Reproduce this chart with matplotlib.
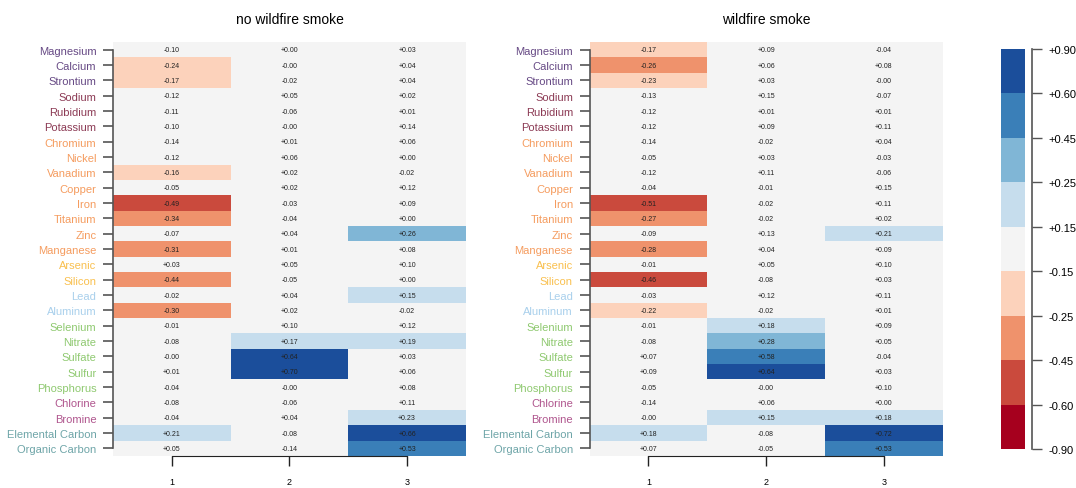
import matplotlib
matplotlib.use("Agg")
import matplotlib.pyplot as plt
import numpy as np
from matplotlib.colors import BoundaryNorm, ListedColormap
from matplotlib.cm import ScalarMappable

plt.rcParams["font.family"] = ["Liberation Sans", "DejaVu Sans"]

species = [
    "Magnesium", "Calcium", "Strontium", "Sodium", "Rubidium", "Potassium",
    "Chromium", "Nickel", "Vanadium", "Copper", "Iron", "Titanium", "Zinc",
    "Manganese", "Arsenic", "Silicon", "Lead", "Aluminum", "Selenium",
    "Nitrate", "Sulfate", "Sulfur", "Phosphorus", "Chlorine", "Bromine",
    "Elemental Carbon", "Organic Carbon",
]
group_sizes = [3, 3, 8, 2, 2, 5, 2, 2]
group_colors = ["#674a85", "#8c3b55", "#f59c5f", "#f9c04f",
                "#a9d0ec", "#8fc970", "#b0568e", "#6ea5a8"]
factors = [1, 2, 3]

# loadings, no wildfire smoke (factor 1, 2, 3)
no_smoke_f1 = [-0.10, -0.24, -0.17, -0.12, -0.11, -0.10, -0.14, -0.12, -0.16,
               -0.05, -0.49, -0.34, -0.07, -0.31, 0.03, -0.44, -0.02, -0.30,
               -0.01, -0.08, -0.0, 0.01, -0.04, -0.08, -0.04, 0.21, 0.05]
no_smoke_f2 = [0.0, -0.0, -0.02, 0.05, -0.06, -0.0, 0.01, 0.06, 0.02,
               0.02, -0.03, -0.04, 0.04, 0.01, 0.05, -0.05, 0.04, 0.02,
               0.10, 0.17, 0.64, 0.70, -0.0, -0.06, 0.04, -0.08, -0.14]
no_smoke_f3 = [0.03, 0.04, 0.04, 0.02, 0.01, 0.14, 0.06, 0.0, -0.02,
               0.12, 0.09, 0.0, 0.26, 0.08, 0.10, 0.0, 0.151, -0.02,
               0.12, 0.19, 0.03, 0.06, 0.08, 0.11, 0.23, 0.66, 0.53]

# loadings, wildfire smoke
smoke_f1 = [-0.17, -0.26, -0.23, -0.13, -0.12, -0.12, -0.14, -0.05, -0.12,
            -0.04, -0.51, -0.27, -0.09, -0.28, -0.01, -0.46, -0.03, -0.22,
            -0.01, -0.08, 0.07, 0.09, -0.05, -0.14, -0.0, 0.18, 0.07]
smoke_f2 = [0.09, 0.06, 0.03, 0.149, 0.01, 0.09, -0.02, 0.03, 0.11,
            -0.01, -0.02, -0.02, 0.13, 0.04, 0.05, -0.08, 0.12, -0.02,
            0.18, 0.28, 0.58, 0.64, -0.0, 0.06, 0.151, -0.08, -0.05]
smoke_f3 = [-0.04, 0.08, -0.0, -0.07, 0.01, 0.11, 0.04, -0.03, -0.06,
            0.149, 0.11, 0.02, 0.21, 0.09, 0.10, 0.03, 0.11, 0.01,
            0.09, 0.05, -0.04, 0.03, 0.10, 0.0, 0.18, 0.72, 0.53]

bounds = [-0.90, -0.60, -0.45, -0.25, -0.15, 0.15, 0.25, 0.45, 0.60, 0.90]
colors = ["#a6001e", "#ca4a3d", "#ef926c", "#fcd2bb", "#f4f4f4",
          "#c6dded", "#80b6d6", "#3a7fb8", "#1b4e9b"]
cmap = ListedColormap(colors)
norm = BoundaryNorm(bounds, cmap.N)

label_colors = np.repeat(group_colors, group_sizes)

fig = plt.figure(figsize=(10.76, 4.89), dpi=100)
panels = [
    ("no wildfire smoke", [no_smoke_f1, no_smoke_f2, no_smoke_f3], 0.105),
    ("wildfire smoke", [smoke_f1, smoke_f2, smoke_f3], 0.548),
]

for title, cols, left in panels:
    ax = fig.add_axes([left, 0.0654, 0.328, 0.8466])
    data = np.array(cols).T
    nrow = len(species)
    ax.pcolormesh(np.arange(0.5, 4.0), np.arange(-0.5, nrow), data,
                  cmap=cmap, norm=norm, edgecolor="none")
    for i in range(nrow):
        for j in range(3):
            ax.text(j + 1, i, f"{data[i, j]:+.2f}", ha="center", va="center",
                    fontsize=5, color="#222222")
    ax.set_xlim(0.5, 3.5)
    ax.set_ylim(nrow - 0.5, -0.5)

    ax.set_yticks(range(nrow))
    ax.set_yticklabels(species, fontsize=8)
    for lab, c in zip(ax.get_yticklabels(), label_colors):
        lab.set_color(c)
    ax.set_xticks(factors)
    ax.set_xticklabels([str(f) for f in factors], fontsize=6.5)

    for s in ["top", "right"]:
        ax.spines[s].set_visible(False)
    ax.spines["left"].set_bounds(0, nrow - 1)
    ax.spines["bottom"].set_bounds(1, 3)
    ax.spines["left"].set_color("#555555")
    ax.spines["left"].set_linewidth(1.2)
    ax.spines["bottom"].set_color("#222222")
    ax.tick_params(axis="y", length=7, width=1.2, color="#555555", pad=5)
    ax.tick_params(axis="x", length=7, width=1, color="#222222", pad=8)
    ax.set_title(title, fontsize=10, pad=14)

cax = fig.add_axes([0.930, 0.0798, 0.0223, 0.818])
cbar = fig.colorbar(ScalarMappable(norm=norm, cmap=cmap), cax=cax)
cbar.outline.set_visible(False)
cbar.set_ticks(bounds)
cbar.set_ticklabels([f"{b:+.2f}" for b in bounds])
cax.spines["right"].set_visible(True)
cax.spines["right"].set_position(("outward", 5))
cax.spines["right"].set_color("#555555")
cax.spines["right"].set_linewidth(1.2)
cax.tick_params(axis="y", length=7, width=1, color="#555555", pad=5, labelsize=8)

fig.savefig("out.png", dpi=100)
